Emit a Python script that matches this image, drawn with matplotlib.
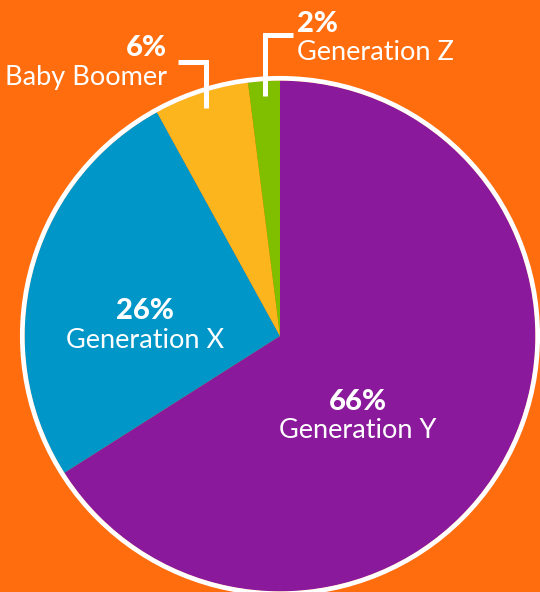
import numpy as np
import matplotlib.pyplot as plt
from matplotlib.patches import Circle

# data
labels = ['Generation Y', 'Generation X', 'Baby Boomer', 'Generation Z']
shares = [66, 26, 6, 2]
colors = ['#8a1a9b', '#0096c8', '#fdb51e', '#80bf00']

BG = '#ff6d0e'
W, H = 540, 592
CX, CY, R = 280, H - 336, 255.5
FS_PCT, FS_LBL = 21, 19.5

plt.rcParams['font.family'] = ['Lato', 'DejaVu Sans']

fig = plt.figure(figsize=(W / 100, H / 100), dpi=100, facecolor=BG)
ax = fig.add_axes([0, 0, 1, 1])
ax.set_facecolor(BG)

wedges, _ = ax.pie(shares, colors=colors, startangle=90, counterclock=False,
                   center=(CX, CY), radius=R, frame=True,
                   wedgeprops=dict(edgecolor='none', linewidth=0))
ax.add_patch(Circle((CX, CY), R + 2.2, fill=False, edgecolor='white', lw=3.4))

ax.set_xlim(0, W)
ax.set_ylim(0, H)
ax.set_aspect('equal')
ax.axis('off')


def pct(s):
    return f'{s}%'


def mid_point(w, r):
    a = np.deg2rad((w.theta1 + w.theta2) / 2)
    return CX + r * np.cos(a), CY + r * np.sin(a)


def two_lines(x, y1, y2, i, ha):
    ax.text(x, H - y1, pct(shares[i]), color='white', fontsize=FS_PCT,
            fontweight='black', ha=ha, va='center')
    ax.text(x, H - y2, labels[i], color='white', fontsize=FS_LBL,
            fontweight='normal', ha=ha, va='center')


# inside labels
two_lines(358, 402, 430, 0, 'center')
two_lines(145, 311, 340, 1, 'center')

# callouts for the small slices
line_kw = dict(color='white', lw=3.6, solid_capstyle='butt',
               solid_joinstyle='miter')

x0, y0 = mid_point(wedges[2], 0.94 * R)
ax.plot([x0, x0, x0 - 28], [y0, H - 62, H - 62], **line_kw)
two_lines(167, 48, 77, 2, 'right')

x0, y0 = mid_point(wedges[3], 0.94 * R)
ax.plot([x0, x0, x0 + 28], [y0, H - 35, H - 35], **line_kw)
two_lines(297, 24, 52, 3, 'left')

fig.savefig('out.png', dpi=100, facecolor=BG)
